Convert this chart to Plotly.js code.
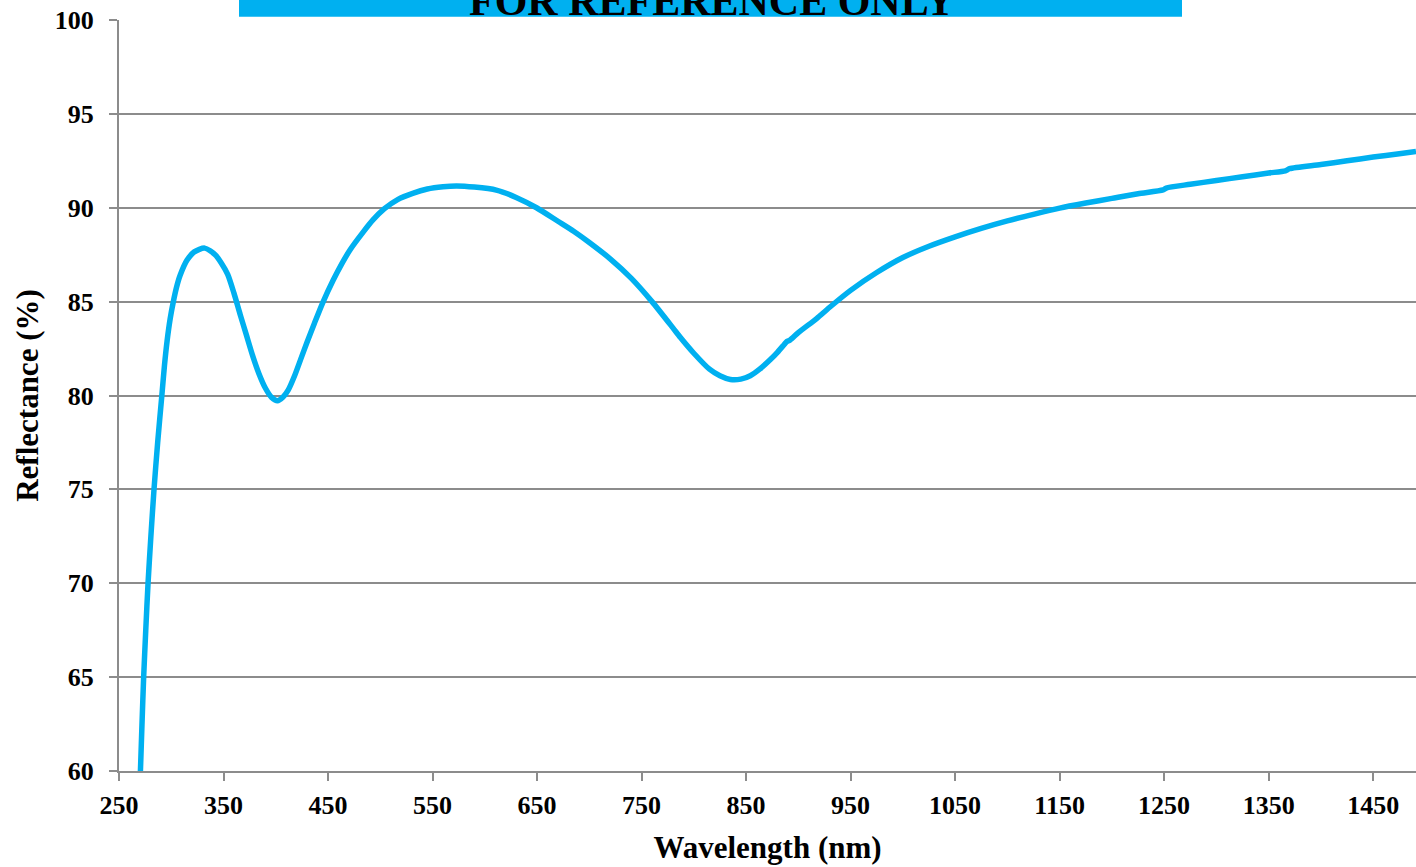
<!DOCTYPE html>
<html>
<head>
<meta charset="utf-8">
<script src="https://cdn.plot.ly/plotly-3.0.1.min.js"></script>
<style>
  html, body { margin: 0; padding: 0; background: #ffffff; }
  #chart { width: 1416px; height: 867px; }
</style>
</head>
<body>
<div id="chart"></div>
<script>
// Wavelength (nm)
const wavelength = [
  270.5, 272, 273.6, 275.6, 277.8, 280.5, 283.5, 287, 291, 293.5,
  296, 299, 302, 305, 308.5, 315, 322, 332, 342, 348,
  354, 360, 366, 372, 378, 384, 390, 396, 401.6, 407,
  412, 418, 424, 430, 437, 445, 455, 463, 471, 483.6,
  493, 504, 517, 531, 545, 560, 573, 590, 611, 630,
  649.5, 670, 685, 700, 720, 740, 760, 780, 787, 800,
  815, 825, 835, 845, 854, 863, 873, 880, 886.5, 889,
  892, 900, 917.5, 930, 950, 975, 1000, 1025, 1050, 1075,
  1100, 1125, 1150, 1175, 1200, 1225, 1249, 1252, 1275, 1300,
  1325, 1350, 1366, 1370, 1400, 1425, 1450, 1475, 1491
];
// Reflectance (%)
const reflectance = [
  60, 62.5, 65, 67.5, 70, 72.5, 75, 77.5, 80, 81.6,
  82.9, 84.1, 85.0, 85.75, 86.4, 87.2, 87.65, 87.85, 87.5, 87.05,
  86.45, 85.45, 84.3, 83.2, 82.1, 81.15, 80.4, 79.9, 79.72, 79.92,
  80.3, 81.05, 81.95, 82.85, 83.85, 84.95, 86.15, 87.0, 87.75, 88.7,
  89.35, 89.95, 90.45, 90.77, 91.0, 91.12, 91.16, 91.1, 90.94, 90.55,
  90.0, 89.28, 88.75, 88.15, 87.28, 86.25, 85.0, 83.6, 83.1, 82.25,
  81.4, 81.05, 80.85, 80.87, 81.05, 81.4, 81.9, 82.3, 82.72, 82.88,
  82.95, 83.35, 84.1, 84.7, 85.6, 86.55, 87.35, 87.95, 88.45, 88.9,
  89.3, 89.65, 89.98, 90.25, 90.5, 90.75, 90.95, 91.05, 91.25, 91.45,
  91.65, 91.85, 91.97, 92.08, 92.3, 92.5, 92.7, 92.88, 93.0
];
const xTickVals = [250, 350, 450, 550, 650, 750, 850, 950, 1050, 1150, 1250, 1350, 1450];
const yTickVals = [60, 65, 70, 75, 80, 85, 90, 95, 100];
const xTitle = 'Wavelength (nm)';
const yTitle = 'Reflectance (%)';
const bannerText = 'FOR REFERENCE ONLY';

const serif = 'Liberation Serif, Times New Roman, serif';
const gridGray = '#8c8c8c';

const trace = {
  x: wavelength,
  y: reflectance,
  type: 'scatter',
  mode: 'lines',
  line: { color: '#00b0f0', width: 5.5, shape: 'spline', smoothing: 0.7 },
  hoverinfo: 'skip',
  showlegend: false
};

const layout = {
  width: 1416,
  height: 867,
  margin: { l: 119, r: 0, t: 20, b: 96, pad: 0 },
  paper_bgcolor: '#ffffff',
  plot_bgcolor: '#ffffff',
  showlegend: false,
  xaxis: {
    range: [250, 1491],
    tickmode: 'array',
    tickvals: xTickVals,
    ticktext: xTickVals.map(String),
    showgrid: false,
    zeroline: false,
    showline: true,
    linecolor: gridGray,
    linewidth: 2,
    ticks: 'outside',
    ticklen: 8,
    tickwidth: 2,
    tickcolor: gridGray,
    ticklabelstandoff: 2,
    tickfont: { family: serif, size: 26, color: '#000000', weight: 'bold' },
    title: {
      text: xTitle,
      font: { family: serif, size: 31, color: '#000000', weight: 'bold' },
      standoff: 17
    },
    automargin: false
  },
  yaxis: {
    range: [60, 100],
    tickmode: 'array',
    tickvals: yTickVals,
    ticktext: yTickVals.map(String),
    showgrid: true,
    gridcolor: gridGray,
    gridwidth: 2,
    zeroline: false,
    showline: true,
    linecolor: gridGray,
    linewidth: 2,
    ticks: 'outside',
    ticklen: 8,
    tickwidth: 2,
    tickcolor: gridGray,
    ticklabelstandoff: 10,
    tickfont: { family: serif, size: 26, color: '#000000', weight: 'bold' },
    title: {
      text: yTitle,
      font: { family: serif, size: 31, color: '#000000', weight: 'bold' },
      standoff: 7
    },
    automargin: false
  },
  shapes: [
    {
      type: 'rect',
      xref: 'paper', yref: 'paper',
      x0: 120 / 1297, x1: 1063 / 1297,
      y0: 1 + 3.3 / 751, y1: 1 + 30 / 751,
      fillcolor: '#00b0f0',
      line: { width: 0 },
      layer: 'above'
    }
  ],
  annotations: [
    {
      xref: 'paper', yref: 'paper',
      x: 592.5 / 1297, y: 1 - 6 / 751,
      xanchor: 'center', yanchor: 'bottom',
      text: bannerText,
      showarrow: false,
      font: { family: serif, size: 42, color: '#000000', weight: 'bold' }
    }
  ]
};

Plotly.newPlot('chart', [trace], layout, { staticPlot: true, displayModeBar: false });
</script>
</body>
</html>
